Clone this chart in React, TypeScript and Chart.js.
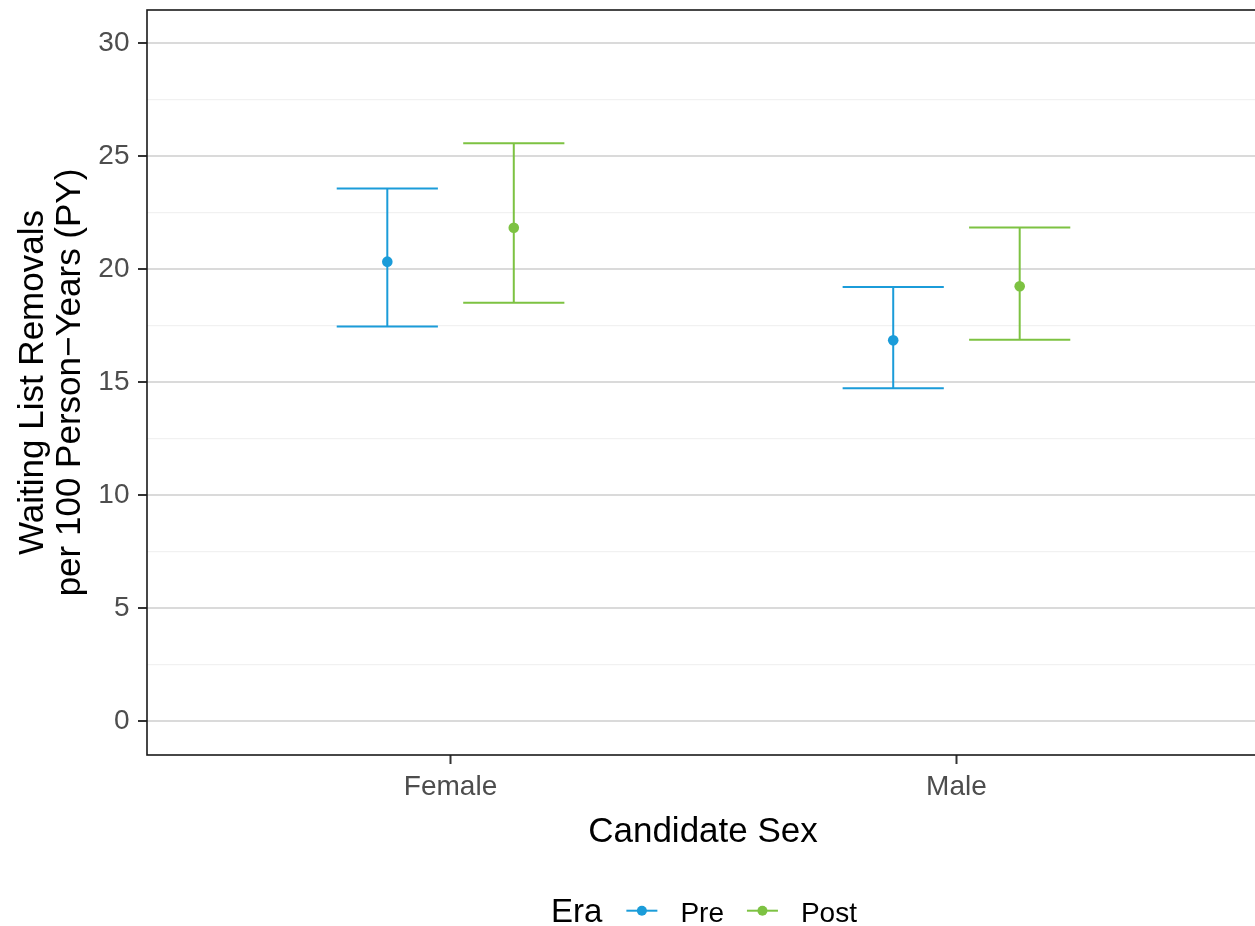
import React, { useEffect, useRef } from 'react';
import { Chart, registerables } from 'chart.js';

Chart.register(...registerables);

// ---- Data ----
const categories = ['Female', 'Male'];
const eras = ['Pre', 'Post'];
const preEstimate = [20.32, 16.84];
const preLower = [17.45, 14.72];
const preUpper = [23.55, 19.2];
const postEstimate = [21.82, 19.23];
const postLower = [18.5, 16.87];
const postUpper = [25.56, 21.83];
const yMajorTicks = [0, 5, 10, 15, 20, 25, 30];
const yMinorTicks = [2.5, 7.5, 12.5, 17.5, 22.5, 27.5];
const eraColors = ['#1b9cd9', '#7dc242'];

const xTitle = 'Candidate Sex';
const yTitleLines = ['Waiting List Removals', 'per 100 Person\u2212Years (PY)'];
const legendTitle = 'Era';

const FONT = "'Liberation Sans', Arial, Helvetica, sans-serif";
const DODGE = 0.125;
const CAP_HALF = 0.1;
// The reference panel runs slightly past the right edge of the image.
const CANVAS_W = 1260;
const VIEW_W = 1255;
const VIEW_H = 926;

const overlayPlugin = {
  id: 'overlay',
  beforeDatasetsDraw(chart: any) {
    const { ctx } = chart;
    const xs = chart.scales.x;
    const ys = chart.scales.y;
    chart.data.datasets.forEach((ds: any) => {
      ctx.save();
      ctx.strokeStyle = ds.borderColor;
      ctx.lineWidth = 2;
      ds.data.forEach((p: any, i: number) => {
        const cx = xs.getPixelForValue(p.x);
        const x0 = xs.getPixelForValue(p.x - CAP_HALF);
        const x1 = xs.getPixelForValue(p.x + CAP_HALF);
        const yLo = ys.getPixelForValue(ds.lower[i]);
        const yHi = ys.getPixelForValue(ds.upper[i]);
        ctx.beginPath();
        ctx.moveTo(cx, yLo);
        ctx.lineTo(cx, yHi);
        ctx.moveTo(x0, yLo);
        ctx.lineTo(x1, yLo);
        ctx.moveTo(x0, yHi);
        ctx.lineTo(x1, yHi);
        ctx.stroke();
      });
      ctx.restore();
    });
  },
  afterDraw(chart: any) {
    const { ctx, chartArea } = chart;
    const { left, right, top, bottom } = chartArea;
    ctx.save();
    // panel border
    ctx.strokeStyle = '#1a1a1a';
    ctx.lineWidth = 1.6;
    ctx.strokeRect(left, top, right - left, bottom - top);

    // x title
    ctx.fillStyle = '#000000';
    ctx.font = `35px ${FONT}`;
    ctx.textAlign = 'center';
    ctx.textBaseline = 'alphabetic';
    ctx.fillText(xTitle, 703, 842);

    // y title (two lines, rotated)
    const cy = (top + bottom) / 2;
    const baselines = [42.5, 80];
    yTitleLines.forEach((line, i) => {
      ctx.save();
      ctx.translate(baselines[i], cy);
      ctx.rotate(-Math.PI / 2);
      ctx.textAlign = 'center';
      ctx.textBaseline = 'alphabetic';
      ctx.fillText(line, 0, 0);
      ctx.restore();
    });

    // legend
    const legendY = 921.5;
    const keyY = 910.7;
    ctx.textAlign = 'left';
    ctx.textBaseline = 'alphabetic';
    ctx.font = `33px ${FONT}`;
    const titleW = ctx.measureText(legendTitle).width;
    ctx.font = `28px ${FONT}`;
    const labelWs = eras.map((e) => ctx.measureText(e).width);
    const keyW = 31;
    const gapTitle = 24;
    const gapKey = 23;
    const gapItem = 23;
    const total =
      titleW + gapTitle + eras.length * (keyW + gapKey) + labelWs.reduce((a, b) => a + b, 0) + (eras.length - 1) * gapItem;
    let x = 704 - total / 2;
    ctx.font = `33px ${FONT}`;
    ctx.fillStyle = '#000000';
    ctx.fillText(legendTitle, x, legendY);
    x += titleW + gapTitle;
    eras.forEach((e, i) => {
      ctx.strokeStyle = eraColors[i];
      ctx.lineWidth = 2;
      ctx.beginPath();
      ctx.moveTo(x, keyY);
      ctx.lineTo(x + keyW, keyY);
      ctx.stroke();
      ctx.fillStyle = eraColors[i];
      ctx.beginPath();
      ctx.arc(x + keyW / 2, keyY, 5, 0, Math.PI * 2);
      ctx.fill();
      x += keyW + gapKey;
      ctx.font = `28px ${FONT}`;
      ctx.fillStyle = '#000000';
      ctx.fillText(e, x, legendY);
      x += labelWs[i] + gapItem;
    });
    ctx.restore();
  },
};

export default function App() {
  const canvasRef = useRef<HTMLCanvasElement | null>(null);

  useEffect(() => {
    document.body.style.margin = '0';
    const canvas = canvasRef.current;
    if (!canvas) return;
    const allYTicks = [...yMajorTicks, ...yMinorTicks].sort((a, b) => a - b);
    const isMajor = (v: number) => yMajorTicks.includes(v);

    const chart = new Chart(canvas, {
      type: 'scatter',
      data: {
        datasets: [
          {
            label: eras[0],
            data: categories.map((_, i) => ({ x: i + 1 - DODGE, y: preEstimate[i] })),
            lower: preLower,
            upper: preUpper,
            backgroundColor: eraColors[0],
            borderColor: eraColors[0],
            pointRadius: 5.3,
            pointBorderWidth: 0,
          } as any,
          {
            label: eras[1],
            data: categories.map((_, i) => ({ x: i + 1 + DODGE, y: postEstimate[i] })),
            lower: postLower,
            upper: postUpper,
            backgroundColor: eraColors[1],
            borderColor: eraColors[1],
            pointRadius: 5.3,
            pointBorderWidth: 0,
          } as any,
        ],
      },
      options: {
        animation: false,
        responsive: false,
        devicePixelRatio: 1,
        layout: { autoPadding: false, padding: { top: 10, right: 0, bottom: 0, left: 0 } },
        plugins: {
          legend: { display: false },
          tooltip: { enabled: false },
        },
        scales: {
          x: {
            type: 'linear',
            min: 0.4,
            max: 2.6,
            afterBuildTicks: (scale: any) => {
              scale.ticks = categories.map((_, i) => ({ value: i + 1 }));
            },
            afterFit: (scale: any) => {
              scale.height = 171;
              scale.paddingLeft = 0;
              scale.paddingRight = 0;
              scale.paddingTop = 0;
              scale.paddingBottom = 0;
            },
            ticks: {
              autoSkip: false,
              maxRotation: 0,
              padding: 6,
              color: '#4d4d4d',
              font: { family: FONT, size: 28 },
              callback: (v: any) => categories[Math.round(Number(v)) - 1] ?? '',
            },
            grid: {
              drawOnChartArea: false,
              drawTicks: true,
              tickLength: 9,
              tickColor: '#333333',
              tickWidth: 2,
            },
            border: { display: false },
          },
          y: {
            type: 'linear',
            min: -1.5,
            max: 31.45,
            afterBuildTicks: (scale: any) => {
              scale.ticks = allYTicks.map((v) => ({ value: v }));
            },
            afterFit: (scale: any) => {
              scale.width = 147;
              scale.paddingLeft = 0;
              scale.paddingRight = 0;
              scale.paddingTop = 0;
              scale.paddingBottom = 0;
            },
            ticks: {
              autoSkip: false,
              padding: 8.5,
              color: '#4d4d4d',
              font: { family: FONT, size: 28 },
              callback: (v: any) => (isMajor(Number(v)) ? String(v) : ''),
            },
            grid: {
              drawTicks: true,
              tickLength: 9,
              color: (c: any) => (isMajor(c.tick?.value) ? '#dadada' : '#f1f1f1'),
              lineWidth: (c: any) => (isMajor(c.tick?.value) ? 2 : 1.2),
              tickColor: (c: any) => (isMajor(c.tick?.value) ? '#333333' : 'rgba(0,0,0,0)'),
              tickWidth: 2,
            },
            border: { display: false },
          },
        },
      },
      plugins: [overlayPlugin],
    });
    return () => chart.destroy();
  }, []);

  return (
    <div
      style={{
        position: 'absolute',
        left: 0,
        top: 0,
        width: VIEW_W,
        height: VIEW_H,
        overflow: 'hidden',
        background: '#ffffff',
      }}
    >
      <canvas ref={canvasRef} width={CANVAS_W} height={VIEW_H} style={{ display: 'block' }} />
    </div>
  );
}
